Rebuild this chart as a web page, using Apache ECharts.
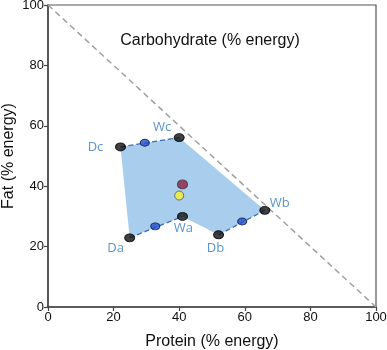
<!DOCTYPE html>
<html>
<head>
<meta charset="utf-8">
<script src="https://cdn.jsdelivr.net/npm/echarts@6/dist/echarts.min.js"></script>
<style>
  html, body { margin: 0; padding: 0; background: #fff; }
  #chart { width: 387px; height: 350px; }
</style>
</head>
<body>
<div id="chart"></div>
<script>
// corner diets (black points), in polygon order
var vertexNames   = ['Dc', 'Wc', 'Wb', 'Db', 'Wa', 'Da'];
var vertexProtein = [22.1, 40.0, 66.1, 52.0, 41.0, 24.9];
var vertexFat     = [53.0, 56.1, 32.0, 23.9, 30.0, 22.9];

// mid points on the dashed edges (blue points)
var midProtein = [29.5, 59.2, 32.7];
var midFat     = [54.4, 28.3, 26.7];

// centre points
var redPoint    = [41.0, 40.6];
var yellowPoint = [40.0, 36.9];

// carbohydrate line: protein + fat = 100
var carbLine = [[0, 100], [100, 0]];

// dashed edges: Dc-Wc, Db-Wb, Da-Wa (index pairs into vertex arrays)
var dashedEdges = [[0, 1], [3, 2], [5, 4]];

var labelOffsets = {
    Dc: [-25, 0], Wc: [-17, -10], Wb: [15, -7],
    Db: [-3, 13], Wa: [1, 12], Da: [-14, 10]
};

var myChart = echarts.init(document.getElementById('chart'));

var polygonData = [];
var vertexData = [];
for (var i = 0; i < vertexNames.length; i++) {
    polygonData.push([vertexProtein[i], vertexFat[i]]);
    vertexData.push({
        name: vertexNames[i],
        value: [vertexProtein[i], vertexFat[i]],
        label: { offset: labelOffsets[vertexNames[i]] }
    });
}
var midData = [];
for (var j = 0; j < midProtein.length; j++) {
    midData.push([midProtein[j], midFat[j]]);
}

var edgeSeries = dashedEdges.map(function (e) {
    return {
        type: 'line',
        data: [[vertexProtein[e[0]], vertexFat[e[0]]], [vertexProtein[e[1]], vertexFat[e[1]]]],
        symbol: 'none',
        silent: true,
        z: 3,
        lineStyle: { color: '#3a6db8', width: 1.3, type: [5, 3] }
    };
});

var axisCommon = {
    type: 'value',
    min: 0,
    max: 100,
    interval: 20,
    nameLocation: 'middle',
    nameMoveOverlap: false,
    nameTextStyle: { fontFamily: 'Liberation Sans', fontSize: 16, color: '#111' },
    axisLine: { show: true, lineStyle: { color: '#444', width: 1.5 } },
    axisTick: { show: true, inside: false, length: 4, lineStyle: { color: '#444', width: 1.2 } },
    axisLabel: { fontFamily: 'Liberation Sans', fontSize: 13, color: '#111', margin: 4 },
    splitLine: { show: false }
};

var option = {
    animation: false,
    grid: {
        left: 48, right: 11, top: 5, bottom: 43,
        outerBoundsMode: 'none',
        containLabel: false,
        show: true, borderColor: '#555', borderWidth: 1.2, backgroundColor: 'transparent'
    },
    title: {
        text: 'Carbohydrate (% energy)',
        left: 205, top: 28, textAlign: 'center',
        textStyle: { fontFamily: 'Liberation Sans', fontSize: 16, fontWeight: 'normal', color: '#111' }
    },
    xAxis: Object.assign({}, axisCommon, { name: 'Protein (% energy)', nameGap: 27 }),
    yAxis: Object.assign({}, axisCommon, { name: 'Fat (% energy)', nameGap: 31 }),
    series: [
        {
            type: 'line',
            data: carbLine,
            symbol: 'none',
            silent: true,
            z: 1,
            lineStyle: { color: '#a0a0a0', width: 1.5, type: [6, 4] }
        },
        {
            type: 'custom',
            z: 2,
            silent: true,
            data: [0],
            renderItem: function (params, api) {
                var pts = polygonData.map(function (p) { return api.coord(p); });
                return {
                    type: 'polygon',
                    shape: { points: pts },
                    style: { fill: '#a9cdec' }
                };
            }
        }
    ].concat(edgeSeries).concat([
        {
            type: 'scatter',
            data: midData,
            symbol: 'circle',
            symbolSize: [9, 7],
            z: 5,
            itemStyle: { color: '#1f4fd0', borderColor: '#0a1a40', borderWidth: 1 }
        },
        {
            type: 'scatter',
            data: vertexData,
            symbol: 'circle',
            symbolSize: [10, 8],
            z: 5,
            itemStyle: { color: '#111', borderColor: '#000', borderWidth: 1 },
            label: {
                show: true,
                position: 'inside',
                formatter: '{b}',
                fontFamily: 'Open Sans',
                fontSize: 13,
                color: '#2f78c0'
            }
        },
        {
            type: 'scatter',
            data: [redPoint],
            symbol: 'circle',
            symbolSize: [10, 9],
            z: 5,
            itemStyle: { color: '#8e2040', borderColor: '#333', borderWidth: 1 }
        },
        {
            type: 'scatter',
            data: [yellowPoint],
            symbol: 'circle',
            symbolSize: 9,
            z: 5,
            itemStyle: { color: '#f4f230', borderColor: '#555', borderWidth: 1 }
        }
    ])
};

myChart.setOption(option);
</script>
</body>
</html>
